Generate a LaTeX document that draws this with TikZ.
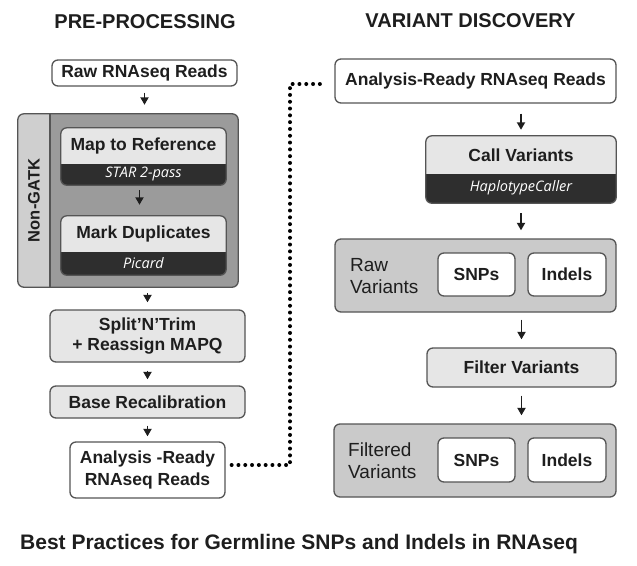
\documentclass[tikz,border=0pt]{standalone}
\usepackage{fontspec}
\setmainfont{Liberation Sans}
\newfontfamily\subfont{Open Sans}
\usetikzlibrary{arrows.meta}
\definecolor{bordc}{HTML}{555555}
\definecolor{lightc}{HTML}{E6E6E6}
\definecolor{darkbar}{HTML}{2E2E2E}
\definecolor{midc}{HTML}{9B9B9B}
\definecolor{stripc}{HTML}{CFCFCF}
\definecolor{contc}{HTML}{CACACA}
\definecolor{inkc}{HTML}{1E1E1E}
\begin{document}
\begin{tikzpicture}[x=1pt,y=-1pt,
  frame/.style={draw=bordc, line width=1.3pt, rounded corners=6pt},
  boxbase/.style={frame, inner sep=0pt, align=center, text=inkc},
  whitebox/.style={boxbase, fill=white, font=\bfseries\fontsize{17.5}{22}\selectfont},
  greybox/.style={boxbase, fill=lightc, font=\bfseries\fontsize{17.5}{20}\selectfont},
  contbox/.style={boxbase, fill=contc},
  shell/.style={inner sep=0pt, shape=rectangle},
  ttext/.style={inner sep=0pt, text=inkc, font=\bfseries\fontsize{17.5}{20}\selectfont},
  stext/.style={inner sep=0pt, text=white, font=\subfont\itshape\fontsize{14.5}{16}\selectfont},
  lbltext/.style={inner sep=0pt, text=inkc, align=left, anchor=west, font=\fontsize{19}{22}\selectfont},
  heading/.style={inner sep=0pt, text=inkc, anchor=base, font=\bfseries\fontsize{20}{24}\selectfont},
  arr/.style={draw=inkc, line width=1.8pt, -{Triangle[length=7.5pt,width=8pt]}},
  dots/.style={draw=black, line width=4pt, line cap=round, dash pattern=on 0pt off 6.8pt},
]
\useasboundingbox (0,0) rectangle (637,565);
\fill[white] (0,0) rectangle (637,565);

% headings
\node[heading] (h1) at (145,28) {PRE-PROCESSING};
\node[heading] (h2) at (470.5,27) {VARIANT DISCOVERY};
\node[inner sep=0pt, text=inkc, anchor=base west, font=\bfseries\fontsize{21}{24}\selectfont] (h3) at (20,549) {Best Practices for Germline SNPs and Indels in RNAseq};

% ---------- left column ----------
\node[whitebox, minimum width=185pt, minimum height=26pt] (raw) at (144.5,73) {Raw RNAseq Reads};

% Non-GATK container
\node[shell, minimum width=220pt, minimum height=173pt] (ngatk) at (128,200.5) {};
\fill[midc, rounded corners=6pt] (ngatk.south west) rectangle (ngatk.north east);
\begin{scope}
  \clip (ngatk.north west) rectangle (ngatk.south west -| 50,0);
  \fill[stripc, rounded corners=6pt] (ngatk.south west) rectangle (ngatk.north east);
\end{scope}
\draw[draw=bordc, line width=1.3pt] (ngatk.north -| 50,0) -- (ngatk.south -| 50,0);
\draw[frame] (ngatk.south west) rectangle (ngatk.north east);
\node[inner sep=0pt, text=inkc, rotate=90, font=\bfseries\fontsize{16.5}{20}\selectfont] (ngl) at (34,200.5) {Non-GATK};

% Map to Reference
\node[shell, minimum width=165pt, minimum height=57pt] (map) at (143.5,156.5) {};
\fill[darkbar, rounded corners=6pt] (map.south west) rectangle (map.north east);
\begin{scope}
  \clip (map.north west) rectangle (map.east |- 0,163);
  \fill[lightc, rounded corners=6pt] (map.south west) rectangle (map.north east);
\end{scope}
\draw[frame] (map.south west) rectangle (map.north east);
\node[ttext] (mapt) at (map.center |- 0,146) {Map to Reference};
\node[stext] (maps) at (map.center |- 0,174) {STAR 2-pass};

% Mark Duplicates
\node[shell, minimum width=165pt, minimum height=59pt] (dup) at (143.5,245.5) {};
\fill[darkbar, rounded corners=6pt] (dup.south west) rectangle (dup.north east);
\begin{scope}
  \clip (dup.north west) rectangle (dup.east |- 0,251);
  \fill[lightc, rounded corners=6pt] (dup.south west) rectangle (dup.north east);
\end{scope}
\draw[frame] (dup.south west) rectangle (dup.north east);
\node[ttext] (dupt) at (dup.center |- 0,234) {Mark Duplicates};
\node[stext] (dups) at (dup.center |- 0,263) {Picard};

\node[greybox, minimum width=195pt, minimum height=52pt] (split) at (147.5,336) {Split’N’Trim\\+ Reassign MAPQ};
\node[greybox, minimum width=195pt, minimum height=32pt] (base) at (147.5,402) {Base Recalibration};
\node[whitebox, minimum width=155pt, minimum height=56pt] (ard) at (147.5,470) {Analysis -Ready\\RNAseq Reads};

% left arrows
\draw[arr, shorten <=6pt, shorten >=9pt] (raw.south) -- (raw.south |- ngatk.north);
\draw[arr, shorten <=5pt, shorten >=11pt] ([xshift=-4pt]map.south) -- ([xshift=-4pt]map.south |- dup.north);
\draw[arr, shorten <=6pt, shorten >=7pt] (split.north |- ngatk.south) -- (split.north);
\draw[arr, shorten <=8pt, shorten >=6pt] (split.south) -- (base.north);
\draw[arr, shorten <=7pt, shorten >=5pt] (base.south) -- (ard.north);

% ---------- right column ----------
\node[whitebox, minimum width=281pt, minimum height=44pt] (ard2) at (475.5,81) {Analysis-Ready RNAseq Reads};

% Call Variants
\node[shell, minimum width=190pt, minimum height=67pt] (call) at (521,169.5) {};
\fill[darkbar, rounded corners=6pt] (call.south west) rectangle (call.north east);
\begin{scope}
  \clip (call.north west) rectangle (call.east |- 0,173);
  \fill[lightc, rounded corners=6pt] (call.south west) rectangle (call.north east);
\end{scope}
\draw[frame] (call.south west) rectangle (call.north east);
\node[ttext] (callt) at (call.center |- 0,155) {Call Variants};
\node[stext] (calls) at (call.center |- 0,188) {HaplotypeCaller};

% Raw variants
\node[contbox, minimum width=281pt, minimum height=73pt] (rv) at (475.5,275.5) {};
\node[lbltext] (rvl) at (350,276) {Raw\\Variants};
\node[whitebox, minimum width=77pt, minimum height=43pt] (snp1) at (476.5,274.5) {SNPs};
\node[whitebox, minimum width=78pt, minimum height=43pt] (ind1) at (567,274.5) {Indels};

\node[greybox, minimum width=189pt, minimum height=39pt] (filt) at (521.5,367.5) {Filter Variants};

% Filtered variants
\node[contbox, minimum width=282pt, minimum height=73pt] (fv) at (475,460.5) {};
\node[lbltext] (fvl) at (348,461) {Filtered\\Variants};
\node[whitebox, minimum width=77pt, minimum height=44pt] (snp2) at (476.5,460) {SNPs};
\node[whitebox, minimum width=78pt, minimum height=44pt] (ind2) at (567,460) {Indels};

% right arrows
\draw[arr, shorten <=10pt, shorten >=6pt] (call.north |- ard2.south) -- (call.north);
\draw[arr, shorten <=10pt, shorten >=8pt] (call.south) -- (call.south |- rv.north);
\draw[arr, shorten <=7pt, shorten >=8pt] (filt.north |- rv.south) -- (filt.north);
\draw[arr, shorten <=8pt, shorten >=8pt] (filt.south) -- (filt.south |- fv.north);

% dotted link
\coordinate (d1) at (290,465);
\coordinate (d2) at (290,84);
\draw[dots] ([xshift=6pt]ard.east |- d1) -- (d1) -- (d2) -- ([xshift=-9pt]ard2.west |- d2);
\end{tikzpicture}
\end{document}
